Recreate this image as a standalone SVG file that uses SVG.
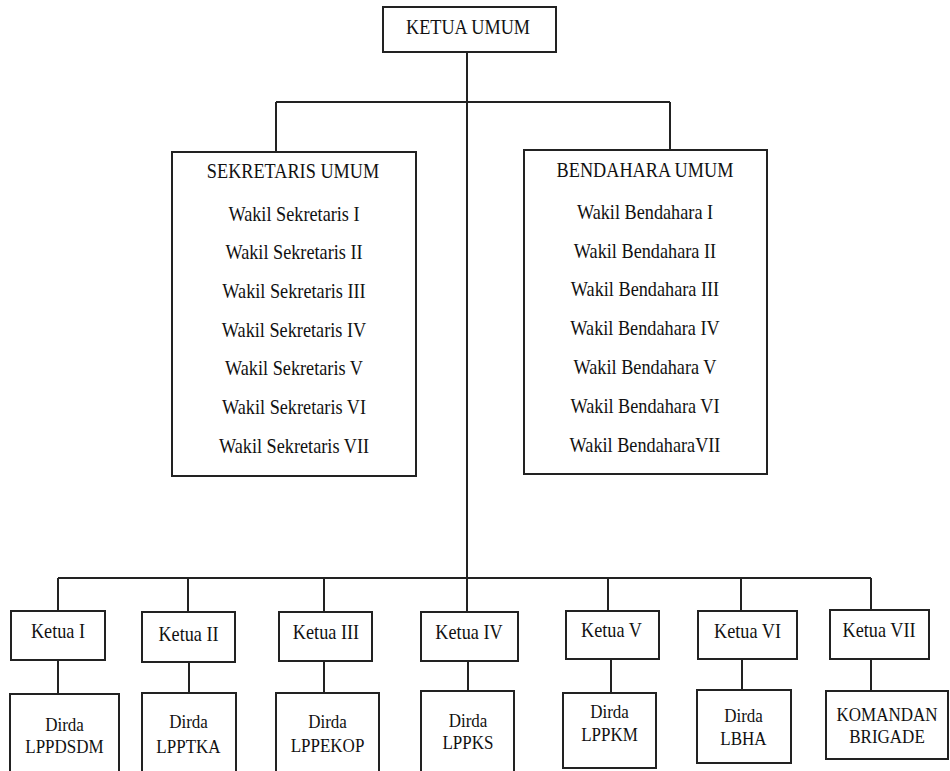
<svg xmlns="http://www.w3.org/2000/svg" width="950" height="771" viewBox="0 0 950 771">
<style>
.box{fill:#fff;stroke:#222;stroke-width:2}
.ln{stroke:#222;stroke-width:2;fill:none}
.t{font-family:'Liberation Serif',Tinos,'Times New Roman',Times,serif;font-size:20.5px;fill:#111;text-anchor:middle}
.s{font-family:'Liberation Serif',Tinos,'Times New Roman',Times,serif;font-size:18.5px;fill:#111;text-anchor:middle}
</style>
<rect width="950" height="771" fill="#fff"/>
<g id="connectors">
<path class="ln" d="M467 52V612M276 102H670M276 102V152M670 102V150"/>
<path class="ln" d="M58 578H871M58 578V611M188 578V612M324 578V612M608 578V611M741 578V611M871 578V610"/>
<path class="ln" d="M58 660V694M189 662V693M324 661V693M468 661V691M611 659V693M742 659V690M871 659V691"/>
</g>
<g id="ketua-umum">
<rect class="box" x="383" y="7" width="173" height="45"/>
<text class="t" transform="translate(468,34) scale(0.89,1)">KETUA UMUM</text>
</g>
<g id="sekretaris-umum">
<rect class="box" x="172" y="152" width="244" height="324"/>
<text class="t" transform="translate(293,178) scale(0.89,1)">SEKRETARIS UMUM</text>
<text class="t" transform="translate(294,221) scale(0.89,1)">Wakil Sekretaris I</text>
<text class="t" transform="translate(294,259) scale(0.89,1)">Wakil Sekretaris II</text>
<text class="t" transform="translate(294,297.5) scale(0.89,1)">Wakil Sekretaris III</text>
<text class="t" transform="translate(294,336.5) scale(0.89,1)">Wakil Sekretaris IV</text>
<text class="t" transform="translate(294,375) scale(0.89,1)">Wakil Sekretaris V</text>
<text class="t" transform="translate(294,414) scale(0.89,1)">Wakil Sekretaris VI</text>
<text class="t" transform="translate(294,453) scale(0.89,1)">Wakil Sekretaris VII</text>
</g>
<g id="bendahara-umum">
<rect class="box" x="524" y="150" width="243" height="324"/>
<text class="t" transform="translate(645,176.5) scale(0.89,1)">BENDAHARA UMUM</text>
<text class="t" transform="translate(645,219) scale(0.89,1)">Wakil Bendahara I</text>
<text class="t" transform="translate(645,257.5) scale(0.89,1)">Wakil Bendahara II</text>
<text class="t" transform="translate(645,296) scale(0.89,1)">Wakil Bendahara III</text>
<text class="t" transform="translate(645,335) scale(0.89,1)">Wakil Bendahara IV</text>
<text class="t" transform="translate(645,373.5) scale(0.89,1)">Wakil Bendahara V</text>
<text class="t" transform="translate(645,412.5) scale(0.89,1)">Wakil Bendahara VI</text>
<text class="t" transform="translate(645,451.5) scale(0.89,1)">Wakil BendaharaVII</text>
</g>
<g id="ketua-1"><rect class="box" x="11" y="611" width="94" height="49"/><text class="t" transform="translate(58,638) scale(0.89,1)">Ketua I</text></g>
<g id="ketua-2"><rect class="box" x="142" y="612" width="93" height="50"/><text class="t" transform="translate(188.5,640.5) scale(0.89,1)">Ketua II</text></g>
<g id="ketua-3"><rect class="box" x="279" y="612" width="93" height="49"/><text class="t" transform="translate(326,639) scale(0.89,1)">Ketua III</text></g>
<g id="ketua-4"><rect class="box" x="421" y="612" width="97" height="49"/><text class="t" transform="translate(469,639) scale(0.89,1)">Ketua IV</text></g>
<g id="ketua-5"><rect class="box" x="566" y="611" width="93" height="48"/><text class="t" transform="translate(611.5,636.5) scale(0.89,1)">Ketua V</text></g>
<g id="ketua-6"><rect class="box" x="698" y="611" width="99" height="48"/><text class="t" transform="translate(747.5,637.5) scale(0.89,1)">Ketua VI</text></g>
<g id="ketua-7"><rect class="box" x="830" y="610" width="99" height="49"/><text class="t" transform="translate(879,636.5) scale(0.89,1)">Ketua VII</text></g>
<g id="dirda-lppdsdm"><rect class="box" x="10" y="694" width="109" height="85"/><text class="s" transform="translate(64.5,730.5) scale(0.92,1)">Dirda</text><text class="s" transform="translate(64.5,753) scale(0.92,1)">LPPDSDM</text></g>
<g id="dirda-lpptka"><rect class="box" x="142" y="693" width="94" height="86"/><text class="s" transform="translate(188.5,728) scale(0.92,1)">Dirda</text><text class="s" transform="translate(188.5,753) scale(0.92,1)">LPPTKA</text></g>
<g id="dirda-lppekop"><rect class="box" x="276" y="693" width="103" height="86"/><text class="s" transform="translate(327.5,728) scale(0.92,1)">Dirda</text><text class="s" transform="translate(327.5,751.5) scale(0.92,1)">LPPEKOP</text></g>
<g id="dirda-lppks"><rect class="box" x="421" y="691" width="93" height="88"/><text class="s" transform="translate(468,726.5) scale(0.92,1)">Dirda</text><text class="s" transform="translate(468,749) scale(0.92,1)">LPPKS</text></g>
<g id="dirda-lppkm"><rect class="box" x="563" y="693" width="93" height="75"/><text class="s" transform="translate(609.5,718) scale(0.92,1)">Dirda</text><text class="s" transform="translate(609.5,740.5) scale(0.92,1)">LPPKM</text></g>
<g id="dirda-lbha"><rect class="box" x="697" y="690" width="94" height="73"/><text class="s" transform="translate(743.5,722) scale(0.92,1)">Dirda</text><text class="s" transform="translate(743.5,745) scale(0.92,1)">LBHA</text></g>
<g id="komandan-brigade"><rect class="box" x="826" y="691" width="122" height="68"/><text class="s" transform="translate(887,721) scale(0.92,1)">KOMANDAN</text><text class="s" transform="translate(887,742.5) scale(0.92,1)">BRIGADE</text></g>
</svg>
